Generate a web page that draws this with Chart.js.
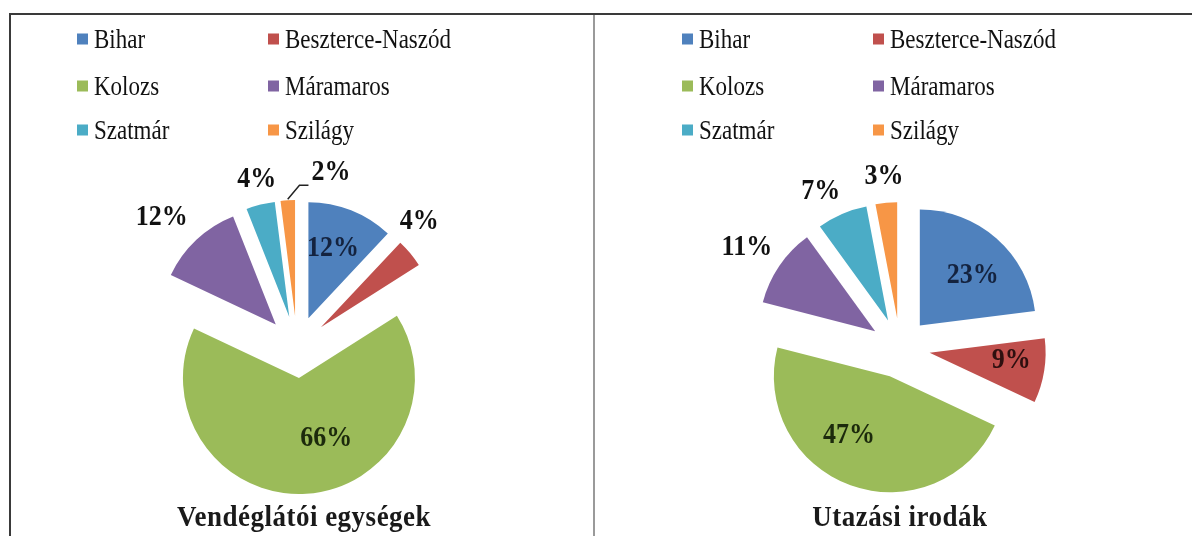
<!DOCTYPE html>
<html>
<head>
<meta charset="utf-8">
<script src="https://cdn.jsdelivr.net/npm/chart.js@4/dist/chart.umd.min.js"></script>
<style>
  html, body { margin: 0; padding: 0; background: #fff; }
  #page { position: relative; width: 1192px; height: 536px; overflow: hidden; background: #fff;
          font-family: "Liberation Serif", "Times New Roman", serif; color: #111; }
  .line { position: absolute; }
  canvas { position: absolute; }
  .key { position: absolute; font-size: 23px; line-height: 26px; white-space: nowrap;
         transform: translateY(-50%) scaleY(1.2); transform-origin: left center; }
  .sq { position: absolute; width: 11px; height: 11px; transform: translateY(-50%); }
  .ttl { position: absolute; font-size: 27px; font-weight: bold; letter-spacing: 0.5px; white-space: nowrap;
         transform: translate(-50%, -50%) scaleY(1.08); color: #1a1a1a; }
</style>
</head>
<body>
<div id="page">
  <div class="line" style="left:10px; top:13px; width:1182px; height:2px; background:#3a3a3a;"></div>
  <div class="line" style="left:9px; top:13px; width:2px; height:523px; background:#3a3a3a;"></div>
  <div class="line" style="left:593px; top:15px; width:2px; height:521px; background:#9a9a9a;"></div>
  <canvas id="left" width="580" height="520" style="left:12px; top:16px;"></canvas>
  <canvas id="right" width="596" height="520" style="left:596px; top:16px;"></canvas>
  <div class="ttl" style="left:304px; top:517px;">Vendéglátói egységek</div>
  <div class="ttl" style="left:900px; top:517px;">Utazási irodák</div>
</div>
<script>
// counties and shares (%)
const counties = ['Bihar', 'Beszterce-Naszód', 'Kolozs', 'Máramaros', 'Szatmár', 'Szilágy'];
const vendeglatoi = [12, 4, 66, 12, 4, 2];
const utazasi = [23, 9, 47, 11, 7, 3];
const sliceColors = ['#4F81BD', '#C0504D', '#9BBB59', '#8064A2', '#4BACC6', '#F79646'];
const insideTextColors = ['#14233f', '#2e0f0f', '#1c2a0c', '#111', '#111', '#111'];

// html legends, 2 columns x 3 rows
function buildLegend(col1Sq, col2Sq) {
    const page = document.getElementById('page');
    const rows = [39, 86, 130];
    counties.forEach((name, i) => {
        const x = i % 2 === 0 ? col1Sq : col2Sq;
        const y = rows[Math.floor(i / 2)];
        const sq = document.createElement('div');
        sq.className = 'sq';
        sq.style.left = x + 'px';
        sq.style.top = y + 'px';
        sq.style.background = sliceColors[i];
        page.appendChild(sq);
        const t = document.createElement('div');
        t.className = 'key';
        t.style.left = (x + 17) + 'px';
        t.style.top = (y + 1) + 'px';
        t.textContent = name;
        page.appendChild(t);
    });
}
buildLegend(77, 268);
buildLegend(682, 873);

// draws each slice pulled out from the centre, then the % labels
const explodePlugin = {
    id: 'explode',
    beforeDatasetDraw(chart, args, opts) {
        const ctx = chart.ctx;
        args.meta.data.forEach(arc => {
            const mid = (arc.startAngle + arc.endAngle) / 2;
            ctx.save();
            ctx.translate(Math.cos(mid) * opts.distance, Math.sin(mid) * opts.distance);
            arc.draw(ctx);
            ctx.restore();
        });
        return false;
    },
    afterDatasetsDraw(chart, args, opts) {
        const ctx = chart.ctx;
        const meta = chart.getDatasetMeta(0);
        const values = chart.data.datasets[0].data;
        ctx.save();
        ctx.font = 'bold 26px "Liberation Serif", "Times New Roman", serif';
        ctx.textAlign = 'center';
        ctx.textBaseline = 'middle';
        meta.data.forEach((arc, i) => {
            const mid = (arc.startAngle + arc.endAngle) / 2;
            const place = opts.labels[i];
            const a = mid + place[0] * Math.PI / 180;
            const lx = arc.x + Math.cos(a) * place[1];
            const ly = arc.y + Math.sin(a) * place[1];
            const txt = values[i] + '%';
            const inside = opts.inside.includes(i);
            ctx.fillStyle = inside ? insideTextColors[i] : '#111';
            ctx.save();
            ctx.translate(lx, ly);
            ctx.scale(1, 1.12);
            ctx.fillText(txt, 0, 0);
            ctx.restore();
            if (opts.leader.includes(i)) {
                const w = ctx.measureText(txt).width;
                const rr = arc.outerRadius + opts.distance + 1;
                ctx.strokeStyle = '#222';
                ctx.lineWidth = 1.5;
                ctx.beginPath();
                ctx.moveTo(arc.x + Math.cos(mid) * rr, arc.y + Math.sin(mid) * rr);
                ctx.lineTo(lx - w / 2 - 12, ly + 13);
                ctx.lineTo(lx - w / 2 - 3, ly + 13);
                ctx.stroke();
            }
        });
        ctx.restore();
    }
};

function makePie(id, values, pad, explode) {
    return new Chart(document.getElementById(id), {
        type: 'pie',
        data: {
            labels: counties,
            datasets: [{
                data: values,
                backgroundColor: sliceColors,
                borderWidth: 0,
                radius: 116
            }]
        },
        options: {
            responsive: false,
            animation: false,
            layout: { padding: pad },
            plugins: {
                legend: { display: false },
                tooltip: { enabled: false },
                explode: explode
            }
        },
        plugins: [explodePlugin]
    });
}

makePie('left', vendeglatoi, { left: 135, right: 145, top: 181, bottom: 39 }, {
    distance: 31,
    labels: [[-1.6, 105], [-6.1, 175], [-14.1, 96], [-3.1, 187], [0.9, 172], [14.6, 178]],
    inside: [0, 2],
    leader: [5]
});

makePie('right', utazasi, { left: 154, right: 142, top: 182, bottom: 38 }, {
    distance: 30,
    labels: [[3.6, 103], [-2.6, 112], [10.6, 101], [-1, 183], [-3.5, 175], [0.1, 172]],
    inside: [0, 1, 2],
    leader: []
});
</script>
</body>
</html>
